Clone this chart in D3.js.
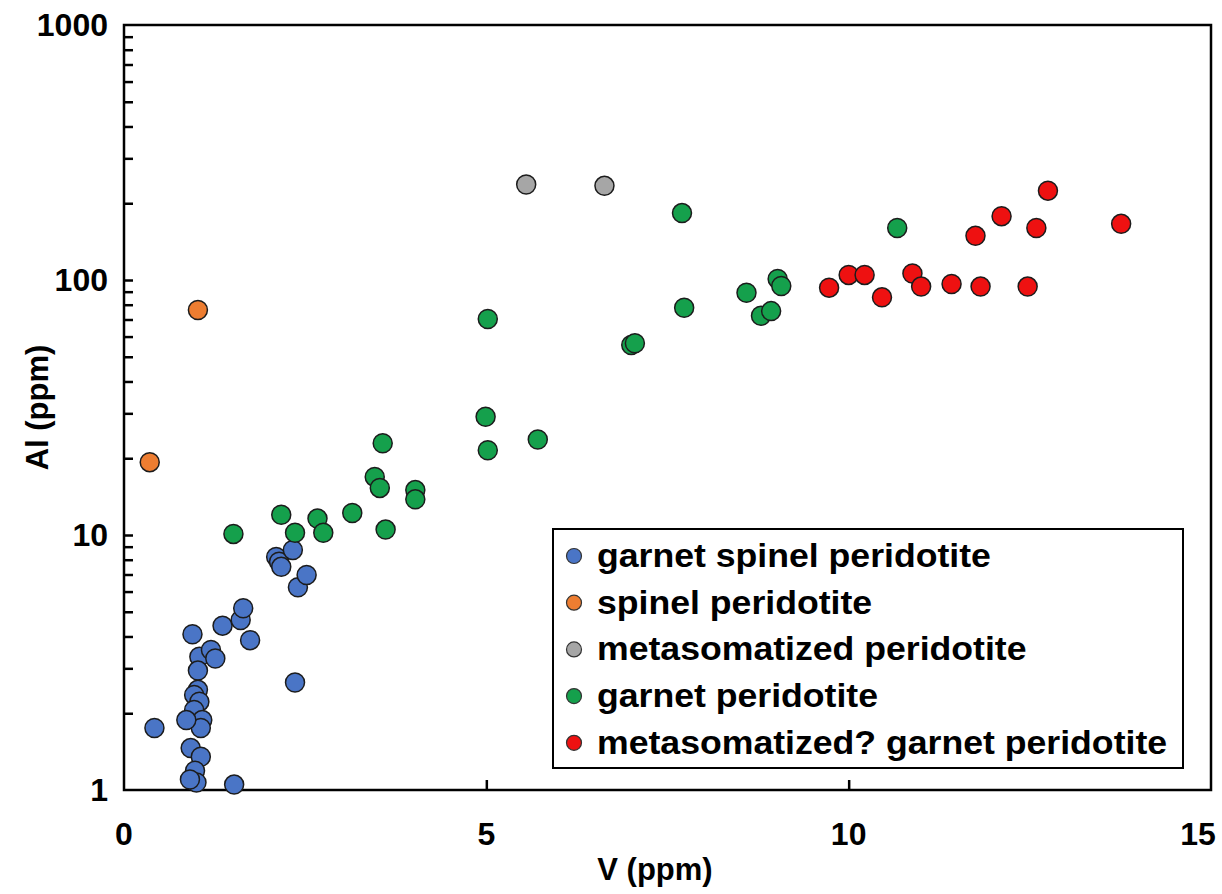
<!DOCTYPE html>
<html>
<head>
<meta charset="utf-8">
<script src="https://cdnjs.cloudflare.com/ajax/libs/d3/7.8.5/d3.min.js"></script>
<style>
  body { margin: 0; background: #fff; }
  text { font-family: "Liberation Sans", Arial, sans-serif; font-weight: bold; fill: #000; }
</style>
</head>
<body>
<div id="chart"></div>
<script>
// V (ppm), Al (ppm)
var garnetSpinel = [
  [0.42,1.75],[0.945,4.08],[1.04,3.33],[1.2,3.54],[1.26,3.28],[1.02,2.94],[1.02,2.47],
  [0.968,2.36],[1.04,2.22],[0.968,2.06],[1.08,1.88],[1.06,1.75],[0.86,1.88],
  [2.1,8.2],[2.14,7.86],[2.17,7.5],[2.33,8.73],[2.40,6.24],[2.52,6.97],
  [1.36,4.41],[1.61,4.64],[1.645,5.16],[1.74,3.87],[2.36,2.64],
  [0.92,1.46],[1.06,1.35],[0.98,1.19],[1.0,1.07],[0.91,1.10],[1.52,1.05]
];
var spinel = [[1.02,76.3],[0.355,19.3]];
var metasomatized = [[5.55,237],[6.63,234]];
var garnet = [
  [7.70,183],[10.67,160],[5.02,70.3],[7.0,55.6],[7.05,56.5],[7.73,77.8],[8.59,89.1],
  [9.02,101],[9.07,94.7],[8.79,72.4],[8.93,75.5],[4.99,29.1],[5.02,21.5],[5.71,23.7],
  [4.02,15.0],[4.02,13.8],[3.57,22.9],[3.46,16.9],[3.53,15.3],[3.61,10.5],[3.15,12.2],
  [2.67,11.6],[2.75,10.2],[2.36,10.2],[2.17,12.0],[1.51,10.1]
];
var metaGarnet = [
  [9.73,93.3],[10.0,104.7],[10.22,104.7],[10.46,85.5],[10.88,106],[11.0,94.2],[11.42,96.5],
  [11.82,94.2],[12.47,94.2],[11.75,149],[12.11,178],[12.59,160],[12.75,224],[13.76,166]
];

var seriesNames = ["garnet spinel peridotite", "spinel peridotite", "metasomatized peridotite",
                   "garnet peridotite", "metasomatized? garnet peridotite"];
var seriesData = [garnetSpinel, spinel, metasomatized, garnet, metaGarnet];
var colors = ["#4a75c6", "#ed7d31", "#a6a6a6", "#15a04c", "#ee1111"];

var xTicks = [0, 5, 10, 15];
var yTicks = [1, 10, 100, 1000];

var width = 1222, height = 894;
var margin = {left: 124, right: 11, top: 25, bottom: 104};

var svg = d3.select("#chart").append("svg")
    .attr("width", width)
    .attr("height", height);

var x = d3.scaleLinear().domain([0, 15]).range([margin.left, width - margin.right]);
var y = d3.scaleLog().domain([1, 1000]).range([height - margin.bottom, margin.top]);

// minor + major ticks on y, pointing inward
var yMinor = [];
for (var d = 1; d < 1000; d *= 10) {
  for (var k = 1; k <= 9; k++) yMinor.push(d * k);
}
svg.append("g")
  .attr("transform", "translate(" + margin.left + ",0)")
  .call(d3.axisRight(y).tickValues(yMinor.filter(function(v){ return v > 1; })).tickSize(9).tickFormat(""))
  .call(function(g){ g.select(".domain").remove(); })
  .selectAll("line").attr("stroke", "#000").attr("stroke-width", 2.5);

// x ticks, inward
svg.append("g")
  .attr("transform", "translate(0," + y(1) + ")")
  .call(d3.axisTop(x).tickValues([5, 10]).tickSize(10).tickFormat(""))
  .call(function(g){ g.select(".domain").remove(); })
  .selectAll("line").attr("stroke", "#000").attr("stroke-width", 2.5);

// frame
svg.append("rect")
  .attr("x", x(0)).attr("y", y(1000))
  .attr("width", x(15) - x(0)).attr("height", y(1) - y(1000))
  .attr("fill", "none").attr("stroke", "#000").attr("stroke-width", 2.5);

// tick labels
svg.selectAll(".ylab").data(yTicks).enter().append("text")
  .attr("x", x(0) - 16).attr("y", function(d){ return y(d) + 11; })
  .attr("text-anchor", "end").style("font-size", "32px")
  .text(function(d){ return d; });
svg.selectAll(".xlab").data(xTicks).enter().append("text")
  .attr("x", function(d){ return Math.min(x(d), width - 24); }).attr("y", y(1) + 55)
  .attr("text-anchor", "middle").style("font-size", "32px")
  .text(function(d){ return d; });

svg.append("text")
  .attr("x", 655).attr("y", y(1) + 90)
  .attr("text-anchor", "middle").style("font-size", "31px")
  .text("V (ppm)");
svg.append("text")
  .attr("transform", "translate(48," + ((y(1) + y(1000)) / 2) + ") rotate(-90)")
  .attr("text-anchor", "middle").style("font-size", "31px")
  .text("Al (ppm)");

// points
seriesData.forEach(function(data, i) {
  svg.append("g").selectAll("circle").data(data).enter().append("circle")
    .attr("cx", function(d){ return x(d[0]); })
    .attr("cy", function(d){ return y(d[1]); })
    .attr("r", 9.5)
    .attr("fill", colors[i])
    .attr("stroke", "#1c1c1c")
    .attr("stroke-width", 1.5);
});

// legend
var lg = svg.append("g").attr("transform", "translate(553,529)");
lg.append("rect").attr("width", 630).attr("height", 239)
  .attr("fill", "#fff").attr("stroke", "#000").attr("stroke-width", 2);
var rows = lg.selectAll(".row").data(seriesNames).enter().append("g")
  .attr("transform", function(d, i){ return "translate(0," + (27 + i * 46.7) + ")"; });
rows.append("circle").attr("cx", 21).attr("cy", 0).attr("r", 7.5)
  .attr("fill", function(d, i){ return colors[i]; })
  .attr("stroke", "#333").attr("stroke-width", 1.2);
rows.append("text")
  .attr("transform", "translate(44,11) scale(1.08,1)")
  .style("font-size", "33px")
  .text(function(d){ return d; });
</script>
</body>
</html>
